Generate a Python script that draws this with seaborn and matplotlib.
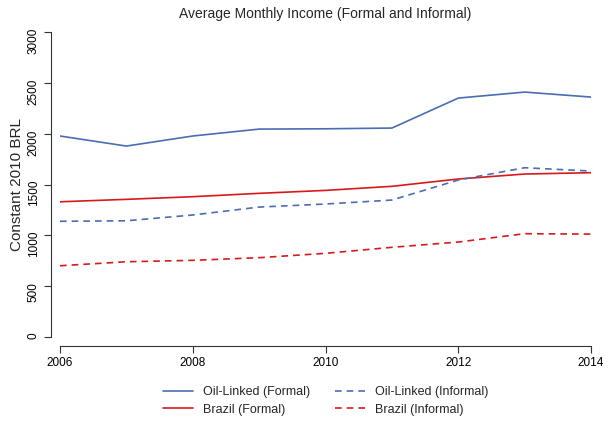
import matplotlib
matplotlib.use("Agg")
import matplotlib.pyplot as plt
import numpy as np
import pandas as pd
import seaborn as sns

years = [2006, 2007, 2008, 2009, 2010, 2011, 2012, 2013, 2014]
oil_formal = [1977, 1878, 1977, 2045, 2048, 2055, 2350, 2409, 2360]
oil_informal = [1138, 1143, 1200, 1278, 1308, 1347, 1544, 1665, 1632]
brazil_formal = [1330, 1354, 1380, 1413, 1442, 1482, 1554, 1603, 1616]
brazil_informal = [701, 740, 754, 780, 823, 882, 934, 1016, 1012]

BLUE = "#4a6db3"
RED = "#d7191c"

sns.set_style("ticks")
plt.rcParams["font.family"] = ["Liberation Sans", "DejaVu Sans"]

fig = plt.figure(figsize=(6.13, 4.24), dpi=100)
ax = fig.add_axes([60 / 613, 1 - 337 / 424, 531 / 613, 305 / 424])

series = [
    ("Oil-Linked (Formal)", oil_formal, BLUE, "-"),
    ("Brazil (Formal)", brazil_formal, RED, "-"),
    ("Oil-Linked (Informal)", oil_informal, BLUE, (0, (4, 3))),
    ("Brazil (Informal)", brazil_informal, RED, (0, (4, 3))),
]
for label, vals, color, ls in series:
    df = pd.DataFrame({"year": years, "income": vals})
    sns.lineplot(data=df, x="year", y="income", color=color, linestyle=ls,
                 linewidth=1.2, label=label, ax=ax, legend=False)

ax.set_xlim(2006, 2014)
ax.set_ylim(0, 3000)
ax.set_xticks([2006, 2008, 2010, 2012, 2014])
ax.set_yticks(np.arange(0, 3001, 500))
ax.tick_params(axis="both", labelsize=8.5, length=5, width=0.8, colors="#333333",
               labelcolor="black", pad=3)
ax.tick_params(axis="y", labelrotation=90)
for lab in ax.get_yticklabels():
    lab.set_va("center")
ax.set_xlabel("")
ax.set_ylabel("Constant 2010 BRL", fontsize=11, labelpad=3)
ax.set_title("Average Monthly Income (Formal and Informal)", fontsize=10, pad=10)
sns.despine(ax=ax, offset=6.5)
for s in ["left", "bottom"]:
    ax.spines[s].set_color("#333333")
    ax.spines[s].set_linewidth(0.8)

handles, labels = ax.get_legend_handles_labels()
fig.legend(handles, labels, ncol=2, frameon=False, fontsize=9,
           loc="center", bbox_to_anchor=(326 / 613, 1 - 401 / 424),
           handlelength=2.4, handletextpad=0.8, columnspacing=2.0,
           labelspacing=0.45)

fig.savefig("out.png", dpi=100)
